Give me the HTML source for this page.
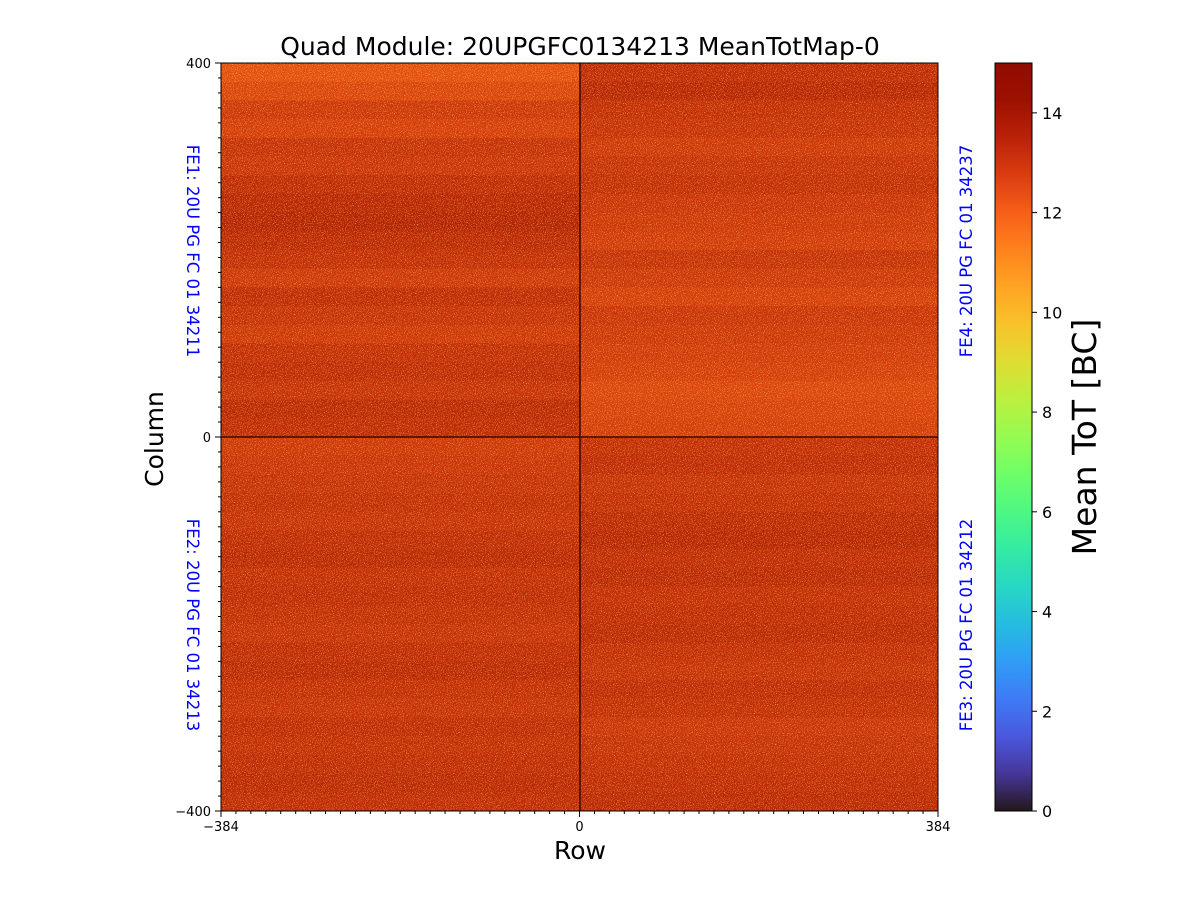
<!DOCTYPE html>
<html><head><meta charset="utf-8"><style>
body{margin:0;background:#fff;}
svg text{font-family:"DejaVu Sans","Liberation Sans",sans-serif;}
</style></head><body>
<svg id="chart" width="1200" height="900" viewBox="0 0 1200 900" xmlns="http://www.w3.org/2000/svg">
<defs>
<filter id="grainBright" x="0" y="0" width="100%" height="100%">
<feTurbulence type="fractalNoise" baseFrequency="1.1" numOctaves="1" seed="3" result="n"/>
<feColorMatrix in="n" type="matrix" values="0 0 0 0 0.98  0 0 0 0 0.55  0 0 0 0 0.08  3.5 0 0 0 -1.75" result="c"/>
<feComposite in="c" in2="SourceGraphic" operator="in"/>
</filter>
<filter id="grainDark" x="0" y="0" width="100%" height="100%">
<feTurbulence type="fractalNoise" baseFrequency="1.1" numOctaves="1" seed="11" result="n"/>
<feColorMatrix in="n" type="matrix" values="0 0 0 0 0.5  0 0 0 0 0.05  0 0 0 0 0.0  3.5 0 0 0 -1.7" result="c"/>
<feComposite in="c" in2="SourceGraphic" operator="in"/>
</filter>
<linearGradient id="cbar" x1="0" y1="1" x2="0" y2="0"></linearGradient>
</defs>
<text x="580" y="55" font-size="25" text-anchor="middle">Quad Module: 20UPGFC0134213 MeanTotMap-0</text>
<g id="cells"></g>
<rect x="221" y="63" width="717" height="748" fill="#000" filter="url(#grainBright)" opacity="0.9"/>
<rect x="221" y="63" width="717" height="748" fill="#000" filter="url(#grainDark)" opacity="0.85"/>
<line x1="580" y1="63" x2="580" y2="811" stroke="#3a0a00" stroke-width="1.5"/>
<line x1="221" y1="437" x2="938" y2="437" stroke="#3a0a00" stroke-width="1.5"/>
<rect x="221" y="63" width="717" height="748" fill="none" stroke="#000" stroke-width="1"/>
<g id="axes"></g>
<text x="580" y="859" font-size="25" text-anchor="middle">Row</text>
<text transform="translate(163,439) rotate(-90)" font-size="25" text-anchor="middle">Column</text>
<text transform="translate(187,251) rotate(90)" font-size="16.5" fill="#0000ff" text-anchor="middle">FE1: 20U PG FC 01 34211</text>
<text transform="translate(187,625) rotate(90)" font-size="16.5" fill="#0000ff" text-anchor="middle">FE2: 20U PG FC 01 34213</text>
<text transform="translate(972,251) rotate(-90)" font-size="16.5" fill="#0000ff" text-anchor="middle">FE4: 20U PG FC 01 34237</text>
<text transform="translate(972,625) rotate(-90)" font-size="16.5" fill="#0000ff" text-anchor="middle">FE3: 20U PG FC 01 34212</text>
<rect x="995" y="63" width="37" height="748" fill="url(#cbar)" stroke="#000" stroke-width="1"/>
<g id="cbticks"></g>
<text transform="translate(1096,437) rotate(-90)" font-size="33" text-anchor="middle">Mean ToT [BC]</text>
</svg>
<script>
// Band means (top to bottom) per quadrant, estimated
const fe1Bands=[12.3,12.6,13.0,12.8,13.2,13.1,13.4,13.6,13.7,13.5,13.3,13.0,13.4,13.2,13.0,13.3,13.4,13.2,13.5,13.4];
const fe4Bands=[13.4,13.6,13.3,13.2,13.0,13.2,13.3,13.1,13.0,12.9,13.2,13.0,12.8,13.1,13.0,12.9,12.8,12.6,12.7,12.8];
const fe2Bands=[13.0,13.1,13.2,13.3,13.2,13.4,13.5,13.3,13.4,13.3,13.2,13.4,13.5,13.3,13.2,13.4,13.3,13.4,13.5,13.4];
const fe3Bands=[13.3,13.4,13.2,13.3,13.5,13.6,13.4,13.5,13.3,13.4,13.5,13.3,13.2,13.4,13.3,13.1,13.2,13.3,13.4,13.5];
const xTicks=[-384,0,384];
const yTicks=[400,0,-400];
const cbTicks=[0,2,4,6,8,10,12,14];
const vmin=0,vmax=15;
const NS="http://www.w3.org/2000/svg";
const X=v=>221+(v+384)/768*717;
const Y=v=>63+(400-v)/800*748;
const CY=v=>811-(v-vmin)/(vmax-vmin)*748;
function turbo(t){t=Math.max(0,Math.min(1,t));
const r=34.61+t*(1172.33-t*(10793.56-t*(33300.12-t*(38394.49-t*14825.05))));
const g=23.31+t*(557.33+t*(1225.33-t*(3574.96-t*(1073.77+t*707.56))));
const b=27.2+t*(3211.1-t*(15327.97-t*(27814-t*(22569.18-t*6838.66))));
const c=x=>Math.max(0,Math.min(255,Math.round(x)));return `rgb(${c(r)},${c(g)},${c(b)})`;}
const cells=document.getElementById('cells');
function quad(bands,x0,x1,yTop){
 const h=400/bands.length;
 bands.forEach((v,i)=>{const r=document.createElementNS(NS,'rect');
 const y0=yTop-i*h,y1=yTop-(i+1)*h;
 r.setAttribute('x',X(x0));r.setAttribute('y',Y(y0));
 r.setAttribute('width',X(x1)-X(x0));r.setAttribute('height',Y(y1)-Y(y0)+0.5);
 r.setAttribute('fill',turbo((v-vmin)/(vmax-vmin)));
 
 
 cells.appendChild(r);});}
quad(fe1Bands,-384,0,400);quad(fe4Bands,0,384,400);
quad(fe2Bands,-384,0,0);quad(fe3Bands,0,384,0);
const g=document.getElementById('axes');
function line(x1,y1,x2,y2,name){const l=document.createElementNS(NS,'line');
l.setAttribute('x1',x1);l.setAttribute('y1',y1);l.setAttribute('x2',x2);l.setAttribute('y2',y2);l.setAttribute('stroke','#000');


g.appendChild(l);}
function text(x,y,s,anchor,name,size){const t=document.createElementNS(NS,'text');
t.setAttribute('x',x);t.setAttribute('y',y);t.setAttribute('text-anchor',anchor);t.setAttribute('font-size',size||13);t.textContent=s;


g.appendChild(t);}
for(let v=-384;v<=384;v+=16){line(X(v),811,X(v),814,'x-minor-tick');}
for(let v=-400;v<=400;v+=16){line(218,Y(v),221,Y(v),'y-minor-tick');}
xTicks.forEach(v=>{line(X(v),811,X(v),817,'x-tick');text(X(v),831,String(v).replace('-','\u2212'),'middle','x-tick-label');});
yTicks.forEach(v=>{line(215,Y(v),221,Y(v),'y-tick');text(211,Y(v)+5,String(v).replace('-','\u2212'),'end','y-tick-label');});
const grad=document.getElementById('cbar');
for(let i=0;i<=20;i++){const s=document.createElementNS(NS,'stop');s.setAttribute('offset',i/20);s.setAttribute('stop-color',turbo(i/20));grad.appendChild(s);}
const cb=document.getElementById('cbticks');
cbTicks.forEach(v=>{const l=document.createElementNS(NS,'line');
l.setAttribute('x1',1032);l.setAttribute('x2',1037);l.setAttribute('y1',CY(v));l.setAttribute('y2',CY(v));l.setAttribute('stroke','#000');


cb.appendChild(l);
const t=document.createElementNS(NS,'text');t.setAttribute('x',1042);t.setAttribute('y',CY(v)+6);t.setAttribute('font-size',16);t.textContent=v;


cb.appendChild(t);});
</script>
</body></html>
